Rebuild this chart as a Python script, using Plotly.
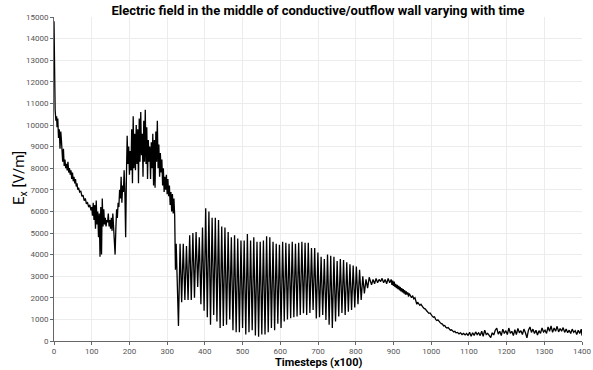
import plotly.graph_objects as go

# ---- data ----
# early noisy phase (timesteps x100, Ex in V/m)
t_early = [0, 1, 2, 3, 5, 7, 8, 10, 12, 14, 16, 18, 20, 21, 23, 25, 27, 29, 31, 33, 35, 37, 39, 41, 43, 45,
           47, 49, 51, 53, 55, 57, 59, 61, 63, 65, 68, 71, 74, 77, 80, 83, 86, 89, 92, 95, 98, 100, 102, 104,
           106, 108, 110, 112, 114, 116, 118, 120, 122, 124, 126, 128, 130, 132, 134, 136, 138, 140, 142, 144,
           146, 148, 150, 152, 154, 156, 158, 160, 162, 164, 166, 168, 170, 172, 174, 176, 178, 180, 182, 184,
           186, 188, 190, 192, 194, 196, 198, 200, 202, 204, 206, 208, 210, 212, 214, 216, 218, 220, 222, 224,
           226, 228, 230, 232, 234, 236, 238, 240, 242, 244, 246, 248, 250, 252, 254, 256, 258, 260, 262, 264,
           266, 268, 270, 272, 274, 276, 278, 280, 282, 284, 286, 288, 290, 292, 294, 296, 298, 300, 302, 304,
           306, 308, 310, 312, 314, 316, 318, 320, 322, 324, 326, 328]
ex_early = [14800, 11800, 11600, 10700, 10200, 10400, 9900, 10300, 9400, 9800, 8900, 9700, 9200, 8600, 8300,
            8900, 8100, 8400, 8000, 8200, 7900, 8300, 7800, 8000, 7700, 7900, 7500, 7800, 7400, 7600, 7300,
            7500, 7150, 7300, 7000, 7100, 6900, 6950, 6700, 6750, 6500, 6600, 6350, 6400, 6200, 6300, 6050,
            6200, 5800, 6400, 5600, 6300, 5200, 6500, 5400, 6000, 4800, 5900, 3900, 6200, 4000, 6600, 5300,
            6100, 5400, 5700, 5300, 5600, 5500, 5900, 5300, 5600, 5200, 5700, 5100, 5900, 5000, 4600, 4000,
            5200, 6100, 5700, 6400, 6200, 7000, 6600, 7600, 6400, 7200, 6900, 7900, 6800, 4800, 7600, 9500,
            8200, 9000, 7700, 8800, 7900, 9800, 7300, 10400, 8000, 9600, 7900, 10000, 8200, 9800, 7300, 10300,
            8300, 10600, 8600, 9600, 7600, 10200, 8300, 10700, 8200, 9900, 7500, 9300, 8300, 9000, 7500, 9200,
            8000, 9600, 7200, 9300, 7100, 9700, 8300, 10200, 8000, 9100, 7600, 8700, 7800, 8400, 7200, 8000,
            6900, 7600, 7000, 7700, 6800, 7500, 6700, 7200, 6300, 6900, 6000, 6800, 5900, 6600, 5800, 3300,
            4500, 3300, 1800]

# oscillating phase: alternating troughs / peaks
t_osc = [330.0, 334.25, 338.5, 342.75, 347.0, 351.25, 355.5, 359.75, 364.0, 368.25, 372.5, 376.75, 381.0,
         385.25, 389.5, 393.75, 398.0, 402.25, 406.5, 410.75, 415.0, 419.25, 423.5, 427.75, 432.0, 436.25,
         440.5, 444.75, 449.0, 453.25, 457.5, 461.75, 466.0, 470.25, 474.5, 478.75, 483.0, 487.25, 491.5,
         495.75, 500.0, 504.25, 508.5, 512.75, 517.0, 521.25, 525.5, 529.75, 534.0, 538.25, 542.5, 546.75,
         551.0, 555.25, 559.5, 563.75, 568.0, 572.25, 576.5, 580.75, 585.0, 589.25, 593.5, 597.75, 602.0,
         606.25, 610.5, 614.75, 619.0, 623.25, 627.5, 631.75, 636.0, 640.25, 644.5, 648.75, 653.0, 657.25,
         661.5, 665.75, 670.0, 674.25, 678.5, 682.75, 687.0, 691.25, 695.5, 699.75, 704.0, 708.25, 712.5,
         716.75, 721.0, 725.25, 729.5, 733.75, 738.0, 742.25, 746.5, 750.75, 755.0, 759.25, 763.5, 767.75,
         772.0, 776.25, 780.5, 784.75, 789.0, 793.25, 797.5, 801.75, 806.0, 810.25, 814.5, 818.75, 823.0,
         827.25, 831.5, 835.75]
ex_osc = [700, 4500, 1800, 4500, 1900, 4400, 1900, 4900, 1900, 5000, 2000, 5050, 2500, 4800, 1700, 5250,
          1400, 6150, 1100, 6000, 750, 5700, 1200, 5700, 900, 5600, 600, 5300, 700, 5250, 750, 5050, 1000,
          4800, 500, 4900, 400, 4750, 400, 4650, 600, 4650, 300, 4950, 400, 4650, 500, 4800, 250, 4600, 200,
          4600, 300, 4650, 300, 4850, 400, 4800, 600, 4600, 500, 4500, 800, 4450, 600, 4600, 900, 4550, 1000,
          4500, 1050, 4600, 1100, 4500, 1130, 4550, 1200, 4600, 1280, 4550, 1200, 4550, 1300, 4300, 1440,
          4300, 1040, 4100, 1100, 3900, 1200, 3800, 970, 4000, 750, 3950, 600, 3900, 900, 3700, 1130, 3800,
          1300, 3750, 1200, 3650, 1350, 3550, 1440, 3500, 1550, 3450, 1700, 3300, 1900, 3000, 2200, 2850,
          2450, 2950]

# decay and late noisy phase
t_late = [838, 842, 846, 850, 854, 858, 862, 866, 870, 874, 878, 882, 886, 890, 894, 896, 898, 900, 902, 904,
          906, 908, 910, 912, 914, 916, 918, 920, 922, 924, 926, 928, 930, 932, 934, 936, 938, 940, 942, 945,
          948, 951, 954, 957, 960, 962, 964, 967, 970, 973, 976, 979, 982, 985, 988, 991, 994, 997, 1000,
          1003, 1006, 1009, 1012, 1015, 1018, 1021, 1024, 1027, 1030, 1033, 1036, 1039, 1042, 1045, 1048,
          1051, 1054, 1057, 1060, 1063, 1066, 1070, 1074, 1078, 1082, 1086, 1090, 1094, 1098, 1102, 1106,
          1110, 1114, 1118, 1122, 1126, 1130, 1134, 1138, 1142, 1146, 1150, 1154, 1158, 1162, 1166, 1170,
          1174, 1178, 1182, 1186, 1190, 1194, 1198, 1202, 1206, 1210, 1214, 1218, 1222, 1226, 1230, 1234,
          1238, 1242, 1246, 1250, 1254, 1258, 1262, 1266, 1270, 1274, 1278, 1282, 1286, 1290, 1294, 1298,
          1302, 1306, 1310, 1314, 1318, 1322, 1326, 1330, 1334, 1338, 1342, 1346, 1350, 1354, 1358, 1362,
          1366, 1370, 1374, 1378, 1382, 1386, 1390, 1394, 1398, 1400]
ex_late = [2830, 2600, 2850, 2650, 2900, 2700, 2850, 2750, 2900, 2700, 2850, 2650, 2900, 2700, 2850, 2600,
           2800, 2550, 2750, 2500, 2650, 2450, 2600, 2400, 2550, 2350, 2500, 2300, 2450, 2250, 2400, 2200,
           2350, 2150, 2300, 2150, 2250, 2050, 2200, 2100, 2000, 2100, 1950, 2000, 1850, 1700, 1800, 1700,
           1650, 1700, 1600, 1550, 1500, 1480, 1400, 1350, 1280, 1300, 1200, 1150, 1100, 1120, 1000, 950,
           980, 880, 850, 800, 780, 700, 720, 640, 600, 620, 530, 500, 520, 450, 420, 450, 380, 400, 330,
           380, 300, 350, 280, 350, 250, 400, 220, 380, 260, 420, 300, 380, 250, 450, 220, 500, 300, 350,
           230, 160, 380, 280, 500, 600, 320, 450, 250, 550, 350, 480, 300, 600, 350, 450, 250, 520, 300,
           580, 380, 480, 300, 550, 380, 150, 500, 650, 400, 550, 350, 500, 280, 480, 350, 600, 420, 500,
           350, 650, 450, 700, 400, 600, 450, 680, 420, 580, 450, 620, 400, 550, 380, 500, 350, 550, 400,
           480, 300, 500, 350, 550, 250]

x_ticks = list(range(0, 1401, 100))
y_ticks = list(range(0, 15001, 1000))

timesteps = t_early + t_osc + t_late
ex_values = ex_early + ex_osc + ex_late

# layout geometry (pixels)
W, H = 593, 370
ML, MR, MT, MB = 54, 11, 17, 29
PW, PH = W - ML - MR, H - MT - MB

fig = go.Figure()
fig.add_trace(go.Scatter(x=timesteps, y=ex_values, mode="lines",
                         line=dict(color="black", width=1.3), showlegend=False))

tick_font = dict(family="Roboto", size=8, color="#555")
axis_common = dict(showgrid=True, gridcolor="#ececec", gridwidth=1, zeroline=False,
                   showline=True, linecolor="#666", linewidth=1, ticks="outside", ticklen=3,
                   tickcolor="#666", tickfont=tick_font, automargin=False)
fig.update_layout(
    width=W, height=H,
    margin=dict(l=ML, r=MR, t=MT, b=MB, autoexpand=False),
    paper_bgcolor="white", plot_bgcolor="white",
    title=dict(text="<b>Electric field in the middle of conductive/outflow wall varying with time</b>",
               font=dict(family="Roboto", size=13, color="black"),
               x=318 / W, xanchor="center", xref="container",
               y=1 - 10 / H, yanchor="middle", yref="container"),
    xaxis=dict(range=[0, 1400], tickvals=x_ticks, ticktext=[str(v) for v in x_ticks],
               ticklabelstandoff=-1, **axis_common),
    yaxis=dict(range=[0, 15000], tickvals=y_ticks, ticktext=[str(v) for v in y_ticks], **axis_common),
    annotations=[
        dict(text="<b>Timesteps (x100)</b>", x=0.5, xref="paper", y=-(362 - 341) / PH, yref="paper",
             xanchor="center", yanchor="middle", showarrow=False,
             font=dict(family="Roboto", size=11, color="black")),
        dict(text="E<sub>x</sub> [V/m]", x=-(ML - 20) / PW, xref="paper", y=(341 - 178) / PH, yref="paper",
             xanchor="center", yanchor="middle", textangle=-90, showarrow=False,
             font=dict(family="Roboto", size=15, color="black")),
    ],
)

fig.write_html("out.html")
